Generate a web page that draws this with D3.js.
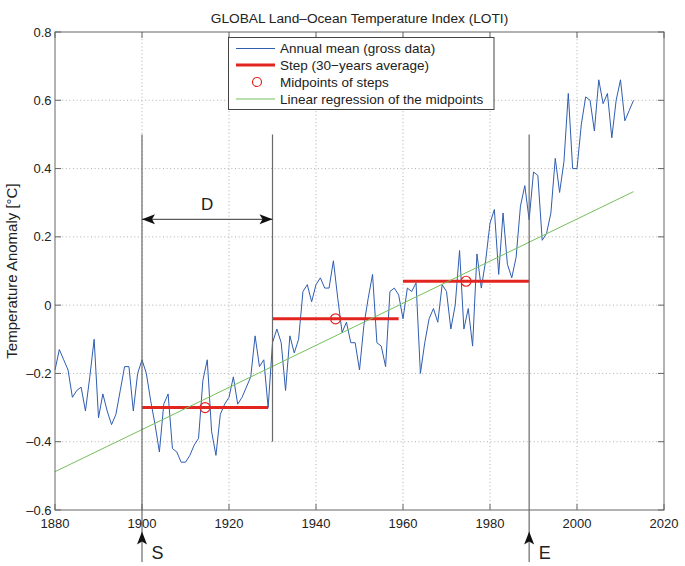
<!DOCTYPE html>
<html><head><meta charset="utf-8">
<script src="https://cdn.jsdelivr.net/npm/d3@7/dist/d3.min.js"></script>
<style>
html,body{margin:0;padding:0;background:#fff;}
text{font-family:"Liberation Sans",Arial,Helvetica,sans-serif;fill:#222;}
</style></head>
<body>
<svg id="chart" width="685" height="566"></svg>
<script>
// ---------------- data ----------------
const startYear = 1880;
const annualMean = [
 -0.19,-0.13,-0.16,-0.19,-0.27,-0.25,-0.24,-0.31,-0.21,-0.10,
 -0.33,-0.26,-0.31,-0.35,-0.32,-0.25,-0.18,-0.18,-0.31,-0.20,
 -0.16,-0.20,-0.28,-0.35,-0.43,-0.29,-0.26,-0.42,-0.43,-0.46,
 -0.46,-0.44,-0.41,-0.39,-0.22,-0.16,-0.37,-0.44,-0.32,-0.29,
 -0.27,-0.21,-0.29,-0.27,-0.24,-0.21,-0.09,-0.18,-0.16,-0.30,
 -0.11,-0.07,-0.11,-0.25,-0.09,-0.14,-0.10,0.04,0.06,0.01,
 0.06,0.08,0.05,0.05,0.13,0.02,-0.08,-0.05,-0.11,-0.11,
 -0.19,-0.06,0.02,0.09,-0.11,-0.12,-0.18,0.04,0.05,0.03,
 -0.04,0.05,0.04,0.065,-0.20,-0.11,-0.04,-0.01,-0.05,0.06,
 0.04,-0.07,0.00,0.16,-0.07,-0.01,-0.12,0.15,0.05,0.13,
 0.24,0.28,0.09,0.27,0.12,0.08,0.14,0.29,0.35,0.25,
 0.39,0.38,0.19,0.21,0.27,0.43,0.33,0.42,0.62,0.40,
 0.40,0.53,0.61,0.60,0.51,0.66,0.59,0.62,0.49,0.60,
 0.66,0.54,0.57,0.60
];
const stepStart = [1900, 1930, 1960];
const stepEnd   = [1929, 1959, 1989];
const stepValue = [-0.30, -0.04, 0.07];
const midYears  = [1914.5, 1944.5, 1974.5];
const xTicks = [1880,1900,1920,1940,1960,1980,2000,2020];
const yTicks = [-0.6,-0.4,-0.2,0,0.2,0.4,0.6,0.8];
const markerYears = [1900, 1930, 1989];   // vertical guide lines
const markerLabels = ["S", "", "E"];
const legendLabels = ["Annual mean (gross data)","Step (30\u2212years average)","Midpoints of steps","Linear regression of the midpoints"];
const titleText = "GLOBAL Land\u2013Ocean Temperature Index (LOTI)";
const yLabelText = "Temperature Anomaly [\u00B0C]";

// ---------------- layout ----------------
const L=55, R=664, T=32, B=510;
const x = d3.scaleLinear().domain([1880,2020]).range([L,R]);
const y = d3.scaleLinear().domain([-0.6,0.8]).range([B,T]);
const svg = d3.select("#chart");
const fmt = v => v===0 ? "0" : (v<0 ? "\u2013"+Math.abs(v).toFixed(1) : v.toFixed(1));

const BLUE="#2f5db0", RED="#e2261f", GREEN="#74c05a", FRAME="#666";

// grid
const grid = svg.append("g").attr("stroke","#9a9a9a").attr("stroke-width",0.8).attr("stroke-dasharray","1,2.6");
grid.selectAll(".gx").data(xTicks.slice(1,-1)).enter().append("line")
  .attr("x1",d=>x(d)).attr("x2",d=>x(d)).attr("y1",T).attr("y2",B);
grid.selectAll(".gy").data(yTicks.slice(1,-1)).enter().append("line")
  .attr("x1",L).attr("x2",R).attr("y1",d=>y(d)).attr("y2",d=>y(d));

// annual mean
const years = annualMean.map((v,i)=>startYear+i);
const series = years.map((yr,i)=>({yr, v:annualMean[i]}));
svg.append("path").datum(series)
  .attr("fill","none").attr("stroke",BLUE).attr("stroke-width",1).attr("stroke-linejoin","round")
  .attr("d", d3.line().x(d=>x(d.yr)).y(d=>y(d.v)));

// steps
svg.selectAll(".step").data(stepValue).enter().append("line")
  .attr("x1",(d,i)=>x(stepStart[i])).attr("x2",(d,i)=>x(stepEnd[i]))
  .attr("y1",d=>y(d)).attr("y2",d=>y(d))
  .attr("stroke",RED).attr("stroke-width",3);

// midpoints
svg.selectAll(".mid").data(stepValue).enter().append("circle")
  .attr("cx",(d,i)=>x(midYears[i])).attr("cy",d=>y(d)).attr("r",5)
  .attr("fill","none").attr("stroke",RED).attr("stroke-width",1.2);

// regression through midpoints
const mx = d3.mean(midYears), my = d3.mean(stepValue);
const slope = d3.sum(midYears.map((m,i)=>(m-mx)*(stepValue[i]-my))) / d3.sum(midYears.map(m=>(m-mx)*(m-mx)));
const reg = yr => my + slope*(yr-mx);
const regEnd = years[years.length-1];
svg.append("line")
  .attr("x1",x(startYear)).attr("y1",y(reg(startYear)))
  .attr("x2",x(regEnd)).attr("y2",y(reg(regEnd)))
  .attr("stroke",GREEN).attr("stroke-width",1);

// vertical guide lines
const guideTop = 0.5;
svg.selectAll(".guide").data(markerYears).enter().append("line")
  .attr("x1",d=>x(d)).attr("x2",d=>x(d))
  .attr("y1",y(guideTop))
  .attr("y2",(d,i)=> markerLabels[i] ? 562 : y(-0.4))
  .attr("stroke","#6a6a6a").attr("stroke-width",1.2);

// arrowhead helper (MATLAB-like notched)
function arrowHead(tx,ty,dx,dy){
  const len=13, hw=5, notch=3;
  const px=-dy, py=dx;
  const bx=tx-dx*len, by=ty-dy*len;
  const nx=tx-dx*(len-notch), ny=ty-dy*(len-notch);
  return `M${tx},${ty}L${bx+px*hw},${by+py*hw}L${nx},${ny}L${bx-px*hw},${by-py*hw}Z`;
}
// S / E arrows
markerYears.forEach((yr,i)=>{
  if(!markerLabels[i]) return;
  svg.append("path").attr("d",arrowHead(x(yr),531.5,0,-1)).attr("fill","#111");
  svg.append("text").attr("x",x(yr)+9.5).attr("y",558.5)
    .attr("font-size",18).text(markerLabels[i]);
});
// D arrow
const dY = 219.3;
svg.append("line").attr("x1",x(stepStart[0])).attr("x2",x(stepStart[1]))
  .attr("y1",dY).attr("y2",dY).attr("stroke","#333").attr("stroke-width",1);
svg.append("path").attr("d",arrowHead(x(stepStart[0]),dY,-1,0)).attr("fill","#111");
svg.append("path").attr("d",arrowHead(x(stepStart[1]),dY,1,0)).attr("fill","#111");
svg.append("text").attr("x",(x(stepStart[0])+x(stepStart[1]))/2).attr("y",209.5)
  .attr("text-anchor","middle").attr("font-size",17).text("D");

// frame & ticks
svg.append("rect").attr("x",L).attr("y",T).attr("width",R-L).attr("height",B-T)
  .attr("fill","none").attr("stroke",FRAME).attr("stroke-width",1);
const tk = svg.append("g").attr("stroke",FRAME).attr("stroke-width",1);
const TL=6;
xTicks.forEach(t=>{
  tk.append("line").attr("x1",x(t)).attr("x2",x(t)).attr("y1",B).attr("y2",B-TL);
  tk.append("line").attr("x1",x(t)).attr("x2",x(t)).attr("y1",T).attr("y2",T+TL);
});
yTicks.forEach(t=>{
  tk.append("line").attr("x1",L).attr("x2",L+TL).attr("y1",y(t)).attr("y2",y(t));
  tk.append("line").attr("x1",R).attr("x2",R-TL).attr("y1",y(t)).attr("y2",y(t));
});
svg.selectAll(".xl").data(xTicks).enter().append("text")
  .attr("x",d=>x(d)).attr("y",527.5).attr("text-anchor","middle").attr("font-size",13).text(d=>d);
svg.selectAll(".yl").data(yTicks).enter().append("text")
  .attr("x",51.5).attr("y",d=>y(d)+4.6).attr("text-anchor","end").attr("font-size",13).text(d=>fmt(d));

// title & y label
svg.append("text").attr("x",(L+R)/2).attr("y",23).attr("text-anchor","middle")
  .attr("font-size",13.7).text(titleText);
svg.append("text").attr("transform",`translate(17,${(T+B)/2}) rotate(-90)`)
  .attr("text-anchor","middle").attr("font-size",15).text(yLabelText);

// legend
const lg = svg.append("g");
lg.append("rect").attr("x",228.5).attr("y",37.5).attr("width",265.5).attr("height",72)
  .attr("fill","#fff").attr("stroke","#444").attr("stroke-width",1);
const rowY = [48.5, 65, 82, 99];
lg.append("line").attr("x1",236).attr("x2",275).attr("y1",rowY[0]).attr("y2",rowY[0]).attr("stroke",BLUE).attr("stroke-width",1);
lg.append("line").attr("x1",236).attr("x2",275).attr("y1",rowY[1]).attr("y2",rowY[1]).attr("stroke",RED).attr("stroke-width",3);
lg.append("circle").attr("cx",257).attr("cy",rowY[2]).attr("r",4.5).attr("fill","none").attr("stroke",RED).attr("stroke-width",1.2);
lg.append("line").attr("x1",236).attr("x2",275).attr("y1",rowY[3]).attr("y2",rowY[3]).attr("stroke",GREEN).attr("stroke-width",1);
lg.selectAll(".lt").data(legendLabels).enter().append("text")
  .attr("x",280).attr("y",(d,i)=>rowY[i]+4.8).attr("font-size",13.5).text(d=>d);
</script>
</body></html>
